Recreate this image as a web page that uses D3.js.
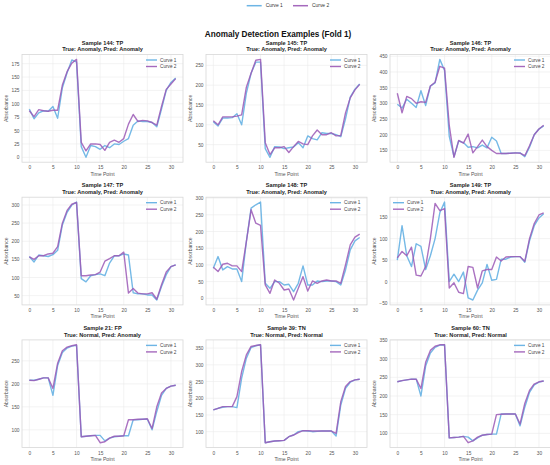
<!DOCTYPE html>
<html><head><meta charset="utf-8">
<script src="https://cdn.jsdelivr.net/npm/d3@7"></script>
<style>
html,body{margin:0;padding:0;background:#fff;}
svg{display:block;font-family:"Liberation Sans",Arial,sans-serif;}
</style></head>
<body>
<script>
// ---- data ----
const timePoints = d3.range(32);
const curveNames = ["Curve 1", "Curve 2"];
const sampleTitles = ["Sample 144: TP","Sample 145: TP","Sample 146: TP","Sample 147: TP","Sample 148: TP","Sample 149: TP","Sample 21: FP","Sample 39: TN","Sample 60: TN"];
const truthTitles = ["True: Anomaly, Pred: Anomaly","True: Anomaly, Pred: Anomaly","True: Anomaly, Pred: Anomaly","True: Anomaly, Pred: Anomaly","True: Anomaly, Pred: Anomaly","True: Anomaly, Pred: Anomaly","True: Normal, Pred: Anomaly","True: Normal, Pred: Normal","True: Normal, Pred: Normal"];
const yTickSteps = [25, 50, 50, 50, 50, 50, 50, 50, 50];
const legendSides = ["right","right","right","right","right","left","right","right","right"];

const s144_c1 = [90,72,83,87,86,95,73,130,158,182,178,20,0,22,20,15,22,18,25,24,30,35,60,68,67,67,65,57,90,125,140,148];
const s144_c2 = [87,76,89,87,86,88,88,135,160,176,183,28,12,25,25,24,13,28,32,28,35,62,80,67,69,68,65,60,95,127,137,147];
const s145_c1 = [108,97,117,117,118,128,100,180,230,258,258,40,18,45,44,40,42,44,55,42,72,65,62,80,78,78,75,70,115,170,190,203];
const s145_c2 = [110,100,120,120,120,122,125,195,230,263,265,55,25,42,42,45,30,45,58,52,50,72,87,75,75,80,72,73,130,168,188,202];
const s146_c1 = [297,285,313,300,287,340,293,355,365,440,405,195,130,180,175,160,162,158,167,158,192,180,140,140,141,142,142,130,160,200,218,228];
const s146_c2 = [332,270,322,315,300,305,303,355,367,418,412,230,128,182,173,202,142,162,183,162,150,140,140,140,141,142,141,133,165,200,218,230];
const s147_c1 = [158,143,162,160,158,163,175,245,280,300,308,97,88,105,108,110,105,140,160,160,165,162,58,55,55,52,52,38,75,108,130,135];
const s147_c2 = [157,150,160,160,165,167,185,250,285,302,307,105,105,107,108,115,145,152,160,160,170,57,70,57,55,55,58,40,80,115,130,135];
const s148_c1 = [90,125,85,95,88,88,50,170,270,280,288,45,30,50,50,40,42,20,45,97,40,40,52,50,52,52,50,40,85,145,172,182];
const s148_c2 = [93,80,102,105,97,97,80,170,265,225,218,40,15,55,45,25,28,-5,30,65,22,52,45,52,55,52,52,45,100,160,183,192];
const s149_c1 = [50,130,60,35,88,82,28,60,100,160,185,0,17,0,22,-38,-43,-20,-3,40,3,5,52,52,57,58,58,45,95,130,148,158];
const s149_c2 = [55,70,60,80,15,13,35,100,182,165,170,-15,-3,-25,-28,35,33,-15,25,28,28,57,48,57,58,58,58,47,100,135,155,160];
const s21_c1 = [208,208,210,213,213,175,240,268,278,282,284,85,86,87,88,88,76,82,85,86,87,87,122,122,123,123,100,140,175,190,195,197];
const s21_c2 = [208,207,210,213,213,190,245,272,280,283,285,85,86,87,88,72,74,82,86,86,87,122,122,123,123,124,103,150,180,190,195,197];
const s39_c1 = [165,170,173,175,175,172,260,320,352,357,360,67,70,72,73,74,85,90,100,103,102,100,101,102,102,102,87,180,230,248,255,257];
const s39_c2 = [165,170,175,175,175,205,280,330,355,358,360,67,70,72,73,74,85,90,97,103,103,102,102,102,102,102,95,190,235,250,255,257];
const s60_c1 = [238,241,243,245,245,200,280,315,330,336,337,88,89,90,92,90,80,88,95,97,98,98,152,152,152,152,120,170,210,230,237,240];
const s60_c2 = [238,241,243,245,245,220,290,322,333,337,337,88,89,90,92,75,80,90,95,97,98,150,151,152,152,152,125,180,215,232,238,240];

const curve1Series = [s144_c1, s145_c1, s146_c1, s147_c1, s148_c1, s149_c1, s21_c1, s39_c1, s60_c1];
const curve2Series = [s144_c2, s145_c2, s146_c2, s147_c2, s148_c2, s149_c2, s21_c2, s39_c2, s60_c2];

// ---- layout ----
const W = 550, H = 465;
const colLeft = [22, 206, 390];
const rowTop = [54.5, 197.2, 339.9];
const pw = 161, ph = 107.7;
const colors = ["#5DADE2", "#9B59B6"];

const svg = d3.select("body").append("svg").attr("width", W).attr("height", H);

// figure legend
const figLeg = svg.append("g");
[[246.7, "Curve 1"], [293, "Curve 2"]].forEach((d, i) => {
  figLeg.append("line").attr("x1", d[0]).attr("x2", d[0] + 15).attr("y1", 5.7).attr("y2", 5.7)
    .attr("stroke", colors[i]).attr("stroke-width", 1.5).attr("stroke-opacity", 0.9);
  figLeg.append("text").attr("x", d[0] + 19).attr("y", 7.4).text(curveNames[i])
    .attr("font-size", 4.9).attr("fill", "#333");
});

svg.append("text").attr("x", 278).attr("y", 37).attr("text-anchor", "middle")
  .attr("font-size", 8.2).attr("font-weight", "bold").attr("fill", "#111")
  .text("Anomaly Detection Examples (Fold 1)");

const xDom = [-1.55, 32.55];

for (let k = 0; k < 9; k++) {
  const r = Math.floor(k / 3), c = k % 3;
  const L = colLeft[c], T = rowTop[r];
  const a = curve1Series[k], b = curve2Series[k];
  const lo = Math.min(d3.min(a), d3.min(b)), hi = Math.max(d3.max(a), d3.max(b));
  const pad = (hi - lo) * 0.05;
  const x = d3.scaleLinear().domain(xDom).range([L, L + pw]);
  const y = d3.scaleLinear().domain([lo - pad, hi + pad]).range([T + ph, T]);
  const step = yTickSteps[k];
  const yTicks = d3.range(Math.ceil((lo - pad) / step) * step, hi + pad + 1e-9, step);
  const xTicks = d3.range(0, 31, 5);

  const g = svg.append("g");
  const cid = "clip" + k;
  svg.append("clipPath").attr("id", cid).append("rect")
    .attr("x", L).attr("y", T).attr("width", pw).attr("height", ph);

  g.append("rect").attr("x", L).attr("y", T).attr("width", pw).attr("height", ph).attr("fill", "#fff");
  // grid
  g.selectAll(".gx").data(xTicks).join("line")
    .attr("x1", d => x(d)).attr("x2", d => x(d)).attr("y1", T).attr("y2", T + ph)
    .attr("stroke", "#ebebeb").attr("stroke-width", 0.6);
  g.selectAll(".gy").data(yTicks).join("line")
    .attr("x1", L).attr("x2", L + pw).attr("y1", d => y(d)).attr("y2", d => y(d))
    .attr("stroke", "#ebebeb").attr("stroke-width", 0.6);

  // axes via d3
  const xa = g.append("g").attr("transform", `translate(0,${T + ph})`)
    .call(d3.axisBottom(x).tickValues(xTicks).tickSize(0).tickPadding(3.5));
  const ya = g.append("g").attr("transform", `translate(${L},0)`)
    .call(d3.axisLeft(y).tickValues(yTicks).tickSize(0).tickPadding(2.5).tickFormat(d3.format("d")));
  [xa, ya].forEach(ax => {
    ax.select(".domain").remove();
    ax.selectAll("text").attr("font-size", 4.8).attr("fill", "#555").attr("font-family", "Liberation Sans, Arial, sans-serif");
  });

  // border
  g.append("rect").attr("x", L).attr("y", T).attr("width", pw).attr("height", ph)
    .attr("fill", "none").attr("stroke", "#d8d8d8").attr("stroke-width", 0.8);

  // lines
  const line = d3.line().x((d, i) => x(timePoints[i])).y(d => y(d));
  const lg = g.append("g").attr("clip-path", `url(#${cid})`);
  [a, b].forEach((s, i) => {
    lg.append("path").attr("d", line(s)).attr("fill", "none")
      .attr("stroke", colors[i]).attr("stroke-width", 1.4).attr("stroke-opacity", 0.85)
      .attr("stroke-linejoin", "round");
  });

  // titles
  g.append("text").attr("x", L + pw / 2).attr("y", T - 9.8).attr("text-anchor", "middle")
    .attr("font-size", 5.6).attr("font-weight", "bold").attr("fill", "#222").text(sampleTitles[k]);
  g.append("text").attr("x", L + pw / 2).attr("y", T - 3.4).attr("text-anchor", "middle")
    .attr("font-size", 5.6).attr("font-weight", "bold").attr("fill", "#222").text(truthTitles[k]);

  // axis labels
  g.append("text").attr("x", L + pw / 2).attr("y", T + ph + 13.5).attr("text-anchor", "middle")
    .attr("font-size", 5.1).attr("fill", "#555").text("Time Point");
  g.append("text").attr("transform", `translate(${L - 14.5},${T + ph / 2}) rotate(-90)`)
    .attr("text-anchor", "middle").attr("font-size", 5.1).attr("fill", "#555").text("Absorbance");

  // legend
  const lx = legendSides[k] === "right" ? L + pw - 37 : L + 3;
  curveNames.forEach((nm, i) => {
    const ly = T + 5.5 + i * 6.5;
    g.append("line").attr("x1", lx).attr("x2", lx + 11).attr("y1", ly).attr("y2", ly)
      .attr("stroke", colors[i]).attr("stroke-width", 1.4).attr("stroke-opacity", 0.9);
    g.append("text").attr("x", lx + 14).attr("y", ly + 1.6).attr("font-size", 4.7)
      .attr("fill", "#444").text(nm);
  });
}
</script>
</body></html>
